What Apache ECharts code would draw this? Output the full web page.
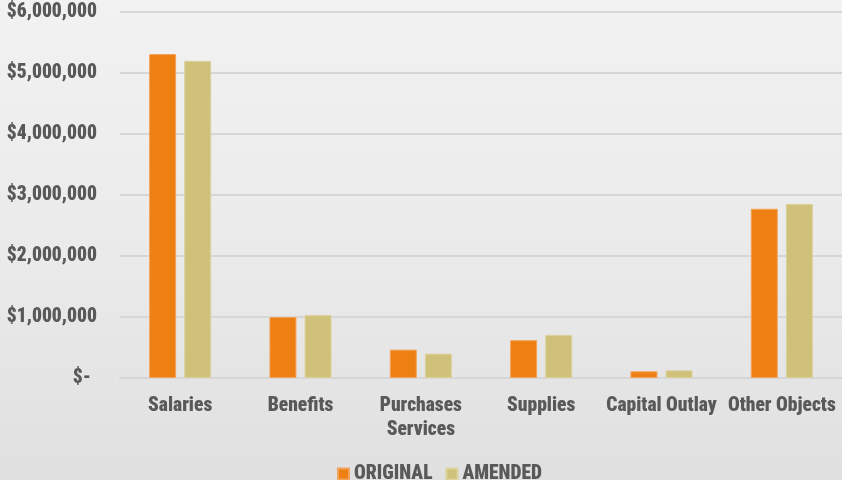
<!DOCTYPE html>
<html>
<head>
<meta charset="utf-8">
<style>
  html, body { margin: 0; padding: 0; }
  body { width: 842px; height: 480px; background: linear-gradient(180deg, #f2f2f2 0%, #eaeaea 55%, #e0e0e0 100%); }
  #chart { width: 842px; height: 480px; }
</style>
<script src="https://cdn.jsdelivr.net/npm/echarts@6/dist/echarts.min.js"></script>
</head>
<body>
<div id="chart"></div>
<script>
// Budget by object code
const categories = ['Salaries', 'Benefits', 'Purchases\nServices', 'Supplies', 'Capital Outlay', 'Other Objects'];
const original = [5310000, 1000000, 465000, 620000, 110000, 2775000];
const amended  = [5200000, 1030000, 400000, 706000, 126000, 2855000];
const yTicks = [0, 1000000, 2000000, 3000000, 4000000, 5000000, 6000000];

const FONT = '"Roboto Condensed", "Open Sans Condensed", sans-serif';
const WEIGHT = 900;
const SIZE = 19.5;
const TEXT = '#595959';

function money(v) {
  if (v === 0) return '{z|$-}';
  return '$' + v.toLocaleString('en-US');
}

const chart = echarts.init(document.getElementById('chart'), null, { renderer: 'canvas' });
chart.setOption({
  backgroundColor: 'transparent',
  animation: false,
  grid: { left: 120, right: 0, top: 12, bottom: 102, containLabel: false, outerBoundsMode: 'none' },
  legend: {
    top: 459,
    left: 332,
    itemWidth: 11,
    itemHeight: 11,
    itemGap: 13,
    icon: 'rect',
    textStyle: { fontFamily: FONT, fontWeight: WEIGHT, fontSize: SIZE, color: TEXT },
    data: ['ORIGINAL', 'AMENDED']
  },
  xAxis: {
    type: 'category',
    data: categories,
    axisLine: { show: true, lineStyle: { color: '#d6d6d6', width: 2 } },
    axisTick: { show: false },
    axisLabel: {
      interval: 0,
      margin: 16,
      hideOverlap: false,
      fontFamily: FONT, fontWeight: WEIGHT, fontSize: SIZE, color: TEXT,
      lineHeight: 24
    }
  },
  yAxis: {
    type: 'value',
    min: yTicks[0],
    max: yTicks[yTicks.length - 1],
    interval: 1000000,
    axisLine: { show: false },
    axisTick: { show: false },
    splitLine: { lineStyle: { color: '#d6d6d6', width: 2 } },
    axisLabel: {
      margin: 23,
      formatter: money,
      fontFamily: FONT, fontWeight: WEIGHT, fontSize: SIZE, color: TEXT,
      rich: { z: { fontFamily: FONT, fontWeight: WEIGHT, fontSize: SIZE, color: TEXT, padding: [0, 6, 0, 0] } }
    }
  },
  series: [
    {
      name: 'ORIGINAL', type: 'bar', data: original,
      barWidth: 27, barGap: '30%',
      itemStyle: { color: '#ee7f12', borderColor: '#f3a35a', borderWidth: 1 }
    },
    {
      name: 'AMENDED', type: 'bar', data: amended,
      barWidth: 27,
      itemStyle: { color: '#cfc17a', borderColor: '#ddd29c', borderWidth: 1 }
    }
  ]
});
</script>
</body>
</html>
